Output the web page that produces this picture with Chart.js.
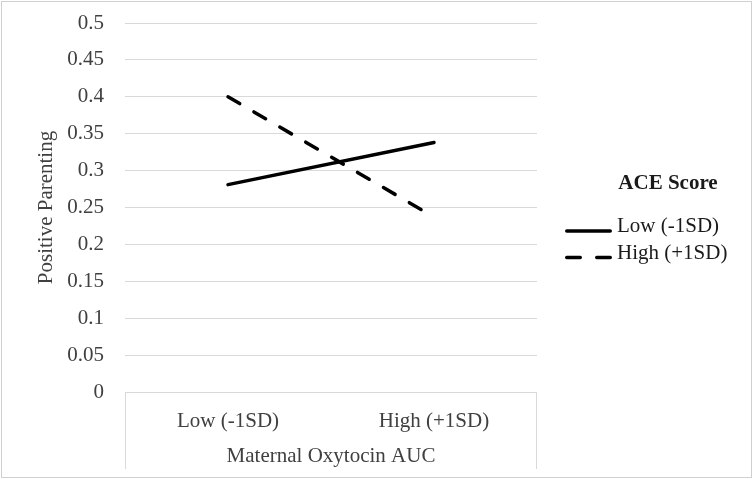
<!DOCTYPE html>
<html><head><meta charset="utf-8">
<script src="https://cdn.jsdelivr.net/npm/chart.js@4.4.1/dist/chart.umd.min.js"></script>
<style>html,body{margin:0;padding:0;background:#fff;}</style>
</head><body>
<canvas id="c" width="753" height="479"></canvas>
<script>
const categories = ['Low (-1SD)', 'High (+1SD)'];
const seriesNames = ['Low (-1SD)', 'High (+1SD)'];
const lowAceValues = [0.281, 0.338];
const highAceValues = [0.400, 0.237];
const yTickValues = [0, 0.05, 0.1, 0.15, 0.2, 0.25, 0.3, 0.35, 0.4, 0.45, 0.5];
const yAxisTitle = 'Positive Parenting';
const xAxisTitle = 'Maternal Oxytocin AUC';
const legendTitle = 'ACE Score';

const FONT = "'Liberation Serif', 'Times New Roman', serif";
const TEXT = '#404040';
const GRID = '#d9d9d9';

const frame = {
  id: 'frame',
  beforeDraw(chart) {
    const ctx = chart.ctx;
    ctx.save();
    ctx.fillStyle = '#fff';
    ctx.fillRect(0, 0, chart.width, chart.height);
    ctx.restore();
  },
  afterDraw(chart) {
    const ctx = chart.ctx;
    const a = chart.chartArea;
    const xs = chart.scales.x;
    ctx.save();
    // category box sides
    ctx.strokeStyle = GRID;
    ctx.lineWidth = 1;
    ctx.beginPath();
    ctx.moveTo(Math.round(a.left) + 0.5, a.bottom);
    ctx.lineTo(Math.round(a.left) + 0.5, xs.bottom);
    ctx.moveTo(Math.round(a.right) - 0.5, a.bottom);
    ctx.lineTo(Math.round(a.right) - 0.5, xs.bottom);
    ctx.stroke();
    // outer border
    ctx.strokeStyle = '#d0d0d0';
    ctx.strokeRect(1.5, 1.5, chart.width - 3, chart.height - 3);

    // legend
    const cy = (a.top + a.bottom) / 2;
    const lx = a.right + 28;
    ctx.fillStyle = '#1a1a1a';
    ctx.font = "bold 21px " + FONT;
    ctx.textAlign = 'center';
    ctx.textBaseline = 'alphabetic';
    ctx.fillText(legendTitle, a.right + 131, cy - 19);
    ctx.font = "21px " + FONT;
    ctx.textAlign = 'left';
    chart.data.datasets.forEach((ds, i) => {
      const y = cy + 23.5 + i * 26.6;
      ctx.save();
      ctx.strokeStyle = ds.borderColor;
      ctx.lineWidth = ds.borderWidth;
      ctx.lineCap = ds.borderCapStyle;
      ctx.setLineDash(ds.borderDash || []);
      ctx.beginPath();
      ctx.moveTo(lx + 1.75, y);
      ctx.lineTo(lx + 45.25, y);
      ctx.stroke();
      ctx.restore();
      ctx.fillStyle = '#1a1a1a';
      ctx.fillText(ds.label, lx + 52, y + 1);
    });
    ctx.restore();
  }
};

new Chart(document.getElementById('c'), {
  type: 'line',
  data: {
    labels: categories,
    datasets: [
      { label: seriesNames[0], data: lowAceValues, borderColor: '#000', borderWidth: 3.5,
        borderCapStyle: 'round', borderDash: [], pointRadius: 0, tension: 0, fill: false },
      { label: seriesNames[1], data: highAceValues, borderColor: '#000', borderWidth: 3.5,
        borderCapStyle: 'round', borderDash: [13.5, 16.5], pointRadius: 0, tension: 0, fill: false }
    ]
  },
  options: {
    responsive: false,
    animation: false,
    devicePixelRatio: 1,
    layout: { padding: { left: 10, top: 23, right: 216, bottom: 10 } },
    plugins: { legend: { display: false }, tooltip: { enabled: false } },
    scales: {
      x: {
        type: 'category',
        offset: true,
        grid: { display: false },
        border: { display: false },
        ticks: { color: TEXT, font: { family: FONT, size: 21 }, padding: 9, maxRotation: 0 },
        title: { display: true, text: xAxisTitle, color: TEXT, font: { family: FONT, size: 21 }, padding: { top: 13, bottom: 0 } },
        afterFit(s) { s.height = 77; }
      },
      y: {
        min: 0, max: 0.5,
        afterBuildTicks(s) { s.ticks = yTickValues.map(v => ({ value: v })); },
        grid: { color: GRID, lineWidth: 1, drawTicks: false },
        border: { display: false },
        ticks: { color: TEXT, font: { family: FONT, size: 21 }, padding: 21,
          callback: v => String(Math.round(v * 100) / 100) },
        title: { display: true, text: yAxisTitle, color: TEXT, font: { family: FONT, size: 21 }, padding: { top: 24, bottom: 0 } },
        afterFit(s) { s.width = 115; s.paddingTop = 0; s.paddingBottom = 0; }
      }
    }
  },
  plugins: [frame]
});
</script>
</body></html>
